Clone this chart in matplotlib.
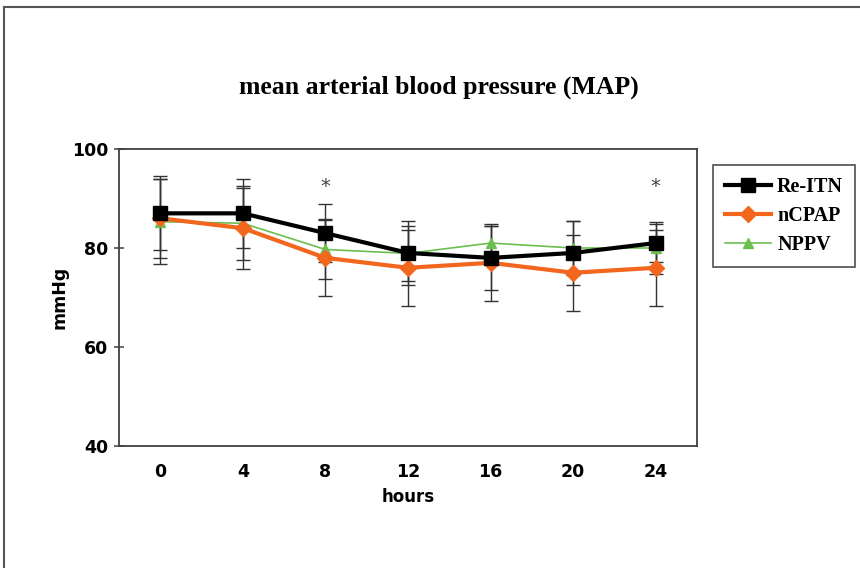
import matplotlib.pyplot as plt
import matplotlib.lines as mlines
import numpy as np

hours = ['0', '4', '8', '12', '16', '20', '24']

# mean values (mmHg)
re_itn = [87, 87, 83, 79, 78, 79, 81]
ncpap = [86, 84, 78, 76, 77, 75, 76]
nppv = [85.3, 85, 79.7, 78.9, 81, 80, 80]

# error bar half-lengths
re_itn_sd = [7.5, 7.0, 5.8, 6.5, 6.5, 6.5, 3.8]
ncpap_sd = [8.0, 8.2, 7.8, 7.7, 7.8, 7.7, 7.7]
nppv_sd = [8.6, 7.5, 6.0, 5.5, 3.5, 5.5, 5.2]

star_hours = ['8', '24']
star_level = 92.4

serif = ['Liberation Serif', 'DejaVu Serif']
sans = ['DejaVu Sans']

fig = plt.figure(figsize=(8.6, 5.68), dpi=100)
ax = fig.add_axes([0.1384, 0.2148, 0.672, 0.5229])

x = np.arange(len(hours))
err_kw = dict(ecolor='#333333', elinewidth=1.0, capsize=5, capthick=1.0, zorder=2)

ax.errorbar(x, re_itn, yerr=re_itn_sd, fmt='none', **err_kw)
ax.errorbar(x, ncpap, yerr=ncpap_sd, fmt='none', **err_kw)
ax.errorbar(x, nppv, yerr=nppv_sd, fmt='none', **err_kw)

ax.plot(x, nppv, color='#6cbf4f', lw=1.2, marker='^', ms=7, zorder=3)
ax.plot(x, ncpap, color='#f2661e', lw=3, marker='D', ms=8.5, zorder=4)
ax.plot(x, re_itn, color='black', lw=3, marker='s', ms=10, zorder=5)

for h in star_hours:
    ax.text(hours.index(h), star_level, '*', ha='center', va='center',
            fontsize=14, color='#444444')

ax.set_xlim(-0.5, len(hours) - 0.5)
ax.set_ylim(40, 100)
ax.set_yticks([40, 60, 80, 100])
ax.set_xticks(x)
ax.set_xticklabels(hours)

for s in ax.spines.values():
    s.set_color('#404040')
    s.set_linewidth(1.3)

ax.tick_params(axis='y', direction='inout', length=7, width=1.1, color='#404040', pad=4)
ax.tick_params(axis='x', length=0, pad=12)
for lbl in ax.get_xticklabels() + ax.get_yticklabels():
    lbl.set_fontfamily(sans)
    lbl.set_fontweight('bold')
    lbl.set_fontsize(12.5)

ax.set_ylabel('mmHg', fontfamily=sans, fontweight='bold', fontsize=12.5, labelpad=3)
ax.set_xlabel('hours', fontfamily=sans, fontweight='bold', fontsize=12, labelpad=5)

fig.text(0.51, 0.847, 'mean arterial blood pressure (MAP)', ha='center', va='center',
         fontfamily=serif, fontweight='bold', fontsize=18.5)

handles = [
    mlines.Line2D([], [], color='black', lw=3, marker='s', ms=10),
    mlines.Line2D([], [], color='#f2661e', lw=3, marker='D', ms=8.5),
    mlines.Line2D([], [], color='#6cbf4f', lw=1.2, marker='^', ms=7),
]
leg = fig.legend(handles, ['Re-ITN', 'nCPAP', 'NPPV'], loc='upper left',
                 bbox_to_anchor=(0.817, 0.728), frameon=True, fancybox=False,
                 prop={'family': serif, 'weight': 'bold', 'size': 14.5},
                 handlelength=2.3, handletextpad=0.3, borderpad=0.6, labelspacing=0.45)
leg.get_frame().set_edgecolor('#333333')
leg.get_frame().set_linewidth(1.3)

# outer frame of the figure panel (left and top edges)
fig.add_artist(mlines.Line2D([0.005, 0.005], [0, 0.988], color='#555555', lw=1.5))
fig.add_artist(mlines.Line2D([0.005, 1.0], [0.988, 0.988], color='#555555', lw=1.5))

fig.savefig('out.png', dpi=100)
